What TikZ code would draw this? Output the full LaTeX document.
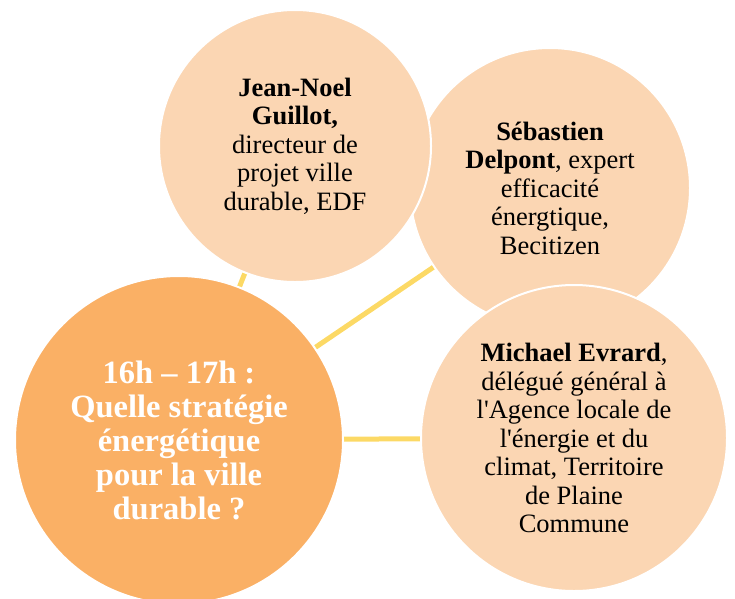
\documentclass[tikz,border=0pt]{standalone}
\usepackage{fontspec}
\setmainfont{Liberation Serif}
\usetikzlibrary{backgrounds}
\definecolor{peach}{HTML}{FBD6B3}
\definecolor{deeporange}{HTML}{FAB065}
\definecolor{linkyellow}{HTML}{FCD965}
\tikzset{
  speaker/.style={circle, fill=peach, draw=white, line width=2pt, inner sep=0pt, align=center,
    font=\fontsize{26.5}{28.5}\selectfont},
  topic/.style={circle, fill=deeporange, draw=white, line width=2pt, inner sep=0pt, align=center,
    text=white, font=\fontsize{32.5}{34}\selectfont\bfseries},
  link/.style={linkyellow, line width=5pt}
}
\begin{document}
\begin{tikzpicture}[x=1pt, y=-1pt]
  \useasboundingbox (0,0) rectangle (735,598);
  \node[speaker, minimum size=280pt] (delpont) at (550,188)
    {\textbf{Sébastien}\\ \textbf{Delpont}, expert\\ efficacité\\ énergtique,\\ Becitizen};
  \node[speaker, minimum size=272pt] (guillot) at (295,146)
    {\textbf{Jean-Noel}\\ \textbf{Guillot,}\\ directeur de\\ projet ville\\ durable, EDF};
  \node[speaker, minimum size=306pt] (evrard) at (574,438)
    {\textbf{Michael Evrard},\\ délégué général à\\ l\textquotesingle Agence locale de\\
     l\textquotesingle énergie et du\\ climat, Territoire\\ de Plaine\\ Commune};
  \node[topic, minimum size=328pt] (topic) at (179,440)
    {16h -- 17h :\\ Quelle stratégie\\ énergétique\\ pour la ville\\ durable ?};
  % links behind the circles
  \begin{pgfonlayer}{background}
    \foreach \s in {guillot, delpont, evrard}
      \draw[link] (topic.center) -- (\s.center);
  \end{pgfonlayer}
\end{tikzpicture}
\end{document}
